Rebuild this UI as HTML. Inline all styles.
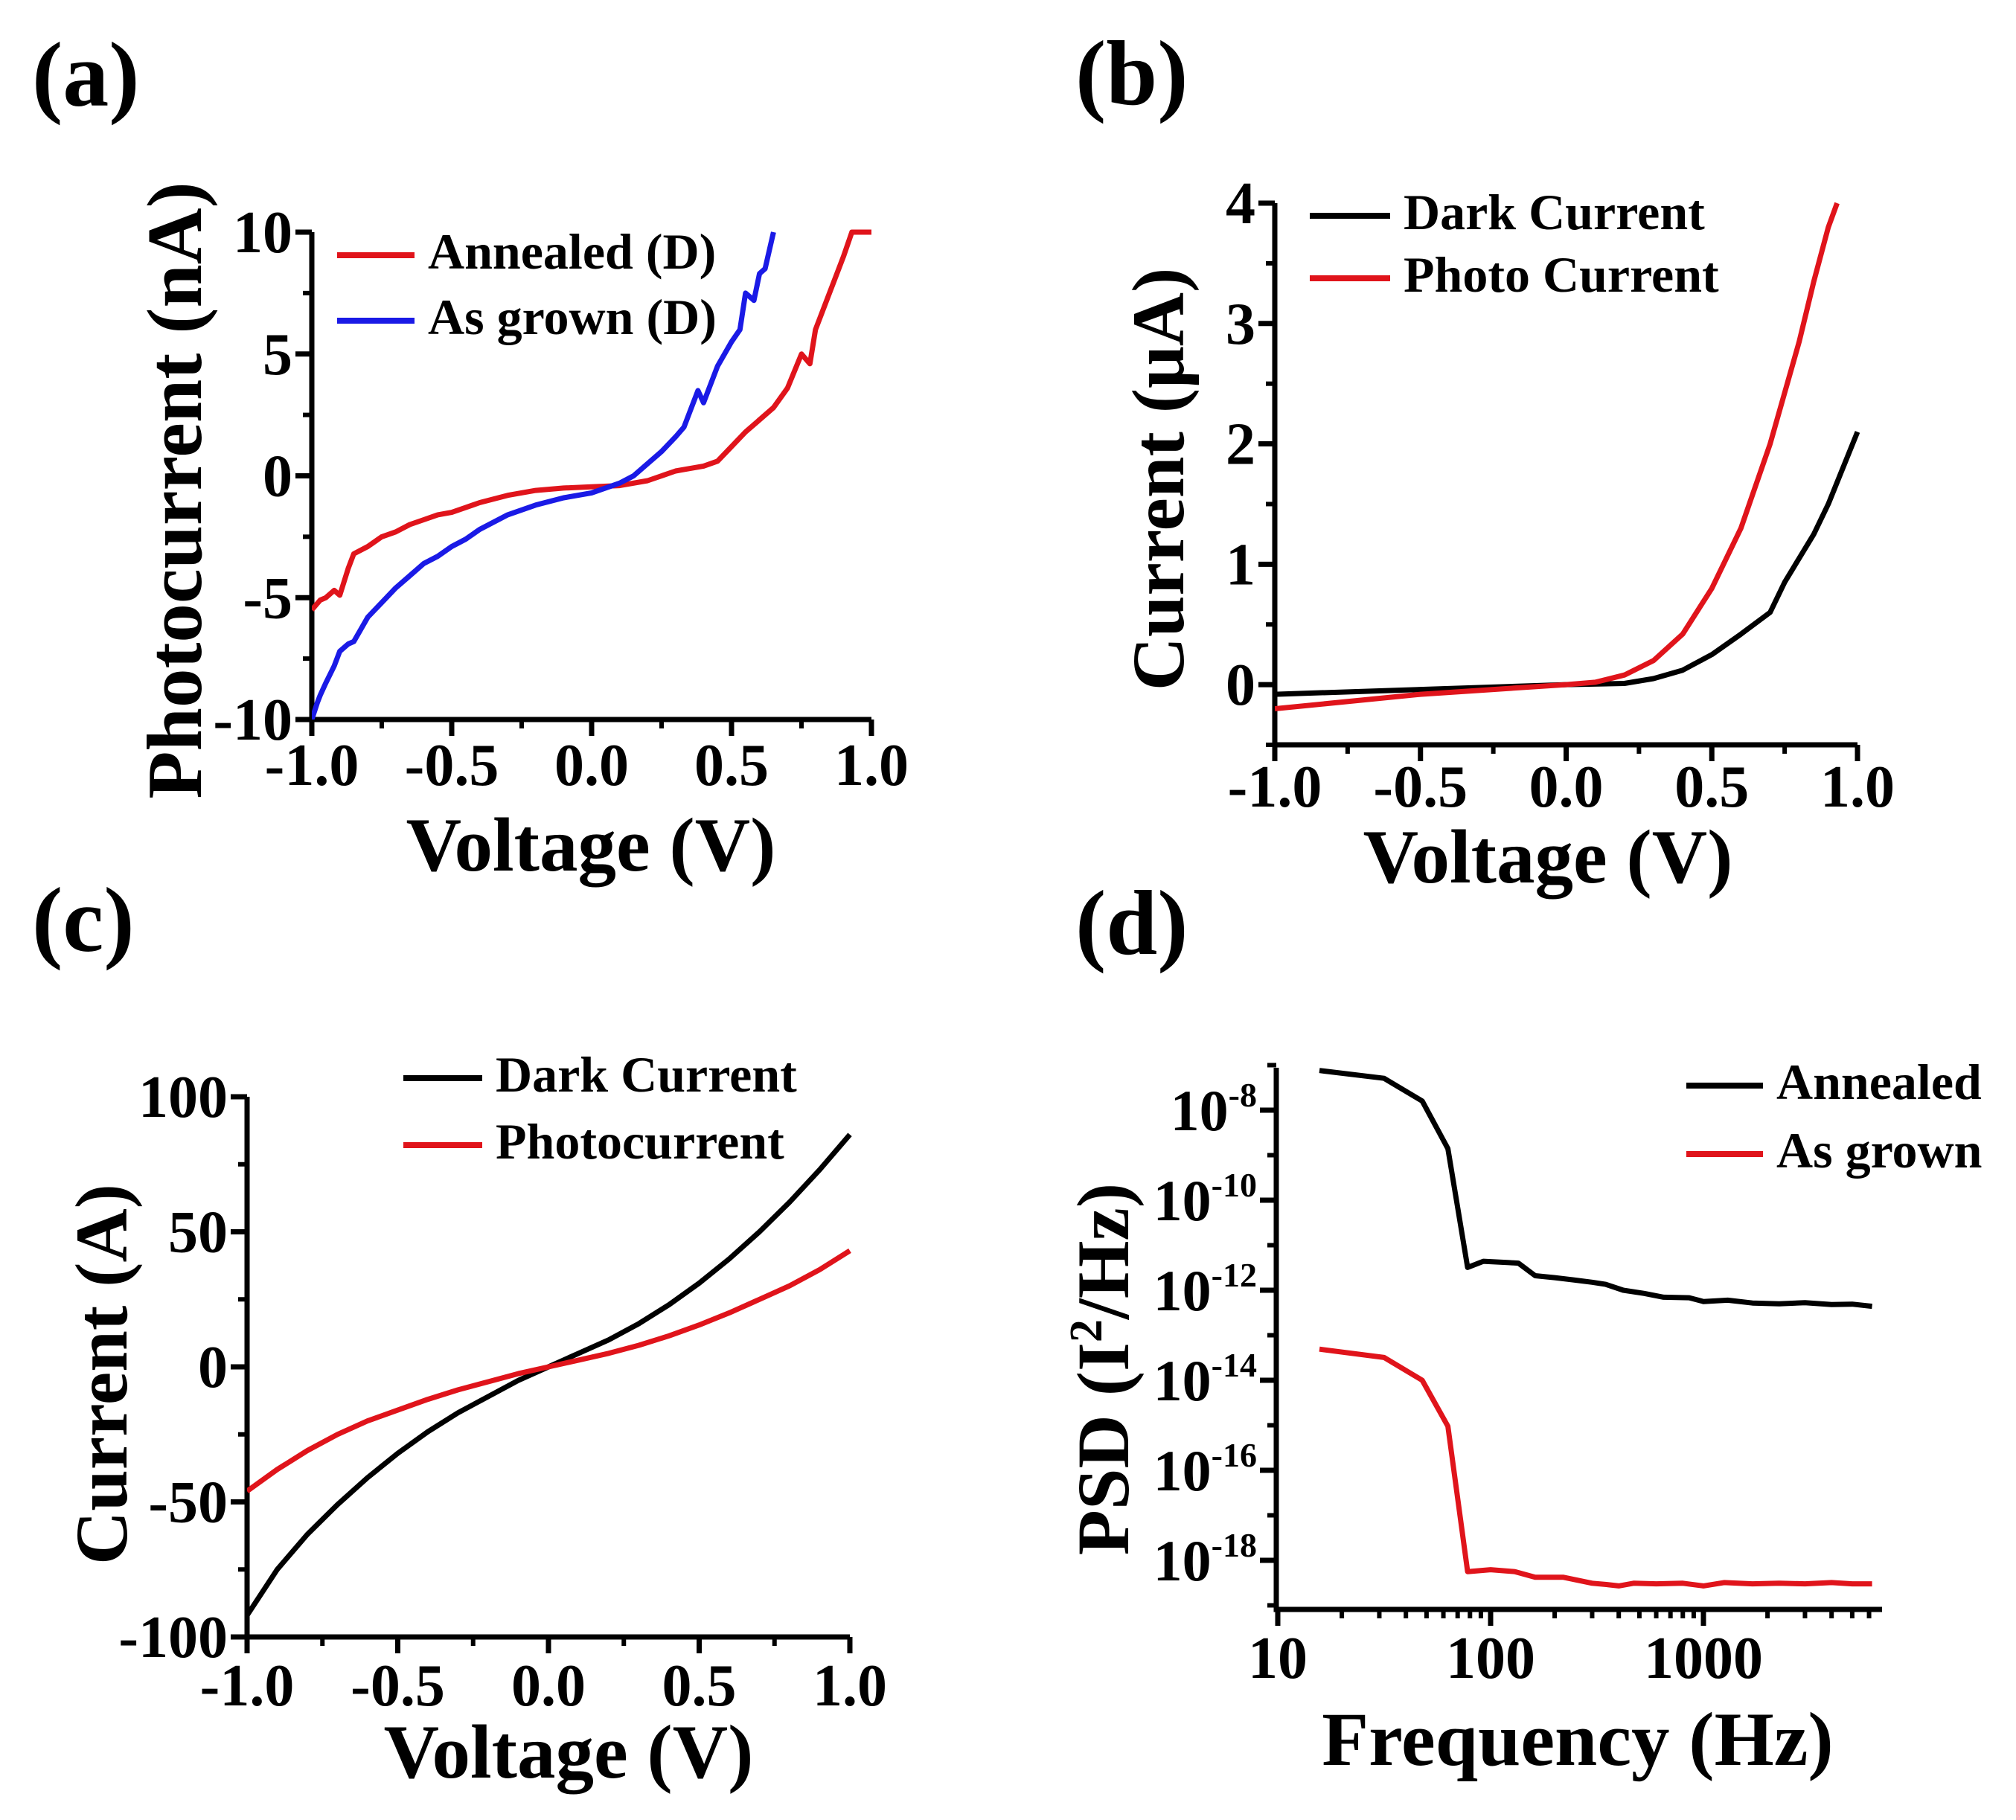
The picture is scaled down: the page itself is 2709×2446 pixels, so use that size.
<!DOCTYPE html>
<html><head><meta charset="utf-8"><style>
html,body{margin:0;padding:0;background:#fff;}
svg{display:block;}
text{font-family:"Liberation Serif",serif;font-weight:bold;fill:#000;}
</style></head><body>
<svg id="fig" xmlns="http://www.w3.org/2000/svg" width="2709" height="2446" viewBox="0 0 2709 2446"></svg>
<script>
// ---------- Panel (a) data ----------
const aVoltAnn = [-1,-0.97,-0.95,-0.92,-0.9,-0.87,-0.85,-0.8,-0.75,-0.7,-0.65,-0.6,-0.55,-0.5,-0.45,-0.4,-0.3,-0.2,-0.1,0,0.1,0.2,0.3,0.35,0.4,0.45,0.5,0.55,0.6,0.65,0.7,0.75,0.78,0.8,0.85,0.9,0.93,0.97,1.0];
const aCurAnn  = [-5.5,-5.1,-5.0,-4.7,-4.9,-3.8,-3.2,-2.9,-2.5,-2.3,-2.0,-1.8,-1.6,-1.5,-1.3,-1.1,-0.8,-0.6,-0.5,-0.45,-0.4,-0.2,0.2,0.3,0.4,0.6,1.2,1.8,2.3,2.8,3.6,5.0,4.6,6.0,7.5,9.0,10,10,10];
const aVoltAsg = [-1,-0.98,-0.97,-0.95,-0.92,-0.9,-0.87,-0.85,-0.8,-0.75,-0.7,-0.65,-0.6,-0.55,-0.5,-0.45,-0.4,-0.3,-0.2,-0.1,0,0.1,0.15,0.2,0.25,0.3,0.33,0.35,0.38,0.4,0.45,0.5,0.53,0.55,0.58,0.6,0.62,0.65];
const aCurAsg  = [-10,-9.3,-9.0,-8.5,-7.8,-7.2,-6.9,-6.8,-5.8,-5.2,-4.6,-4.1,-3.6,-3.3,-2.9,-2.6,-2.2,-1.6,-1.2,-0.9,-0.7,-0.3,0,0.5,1.0,1.6,2.0,2.6,3.5,3.0,4.5,5.5,6.0,7.5,7.2,8.3,8.5,10];
const aXTicks = [-1,-0.5,0,0.5,1];
const aXTickLabels = ["-1.0","-0.5","0.0","0.5","1.0"];
const aYTicks = [-10,-5,0,5,10];
const aYTickLabels = ["-10","-5","0","5","10"];
// ---------- Panel (b) data ----------
const bVoltDark = [-1,-0.5,0,0.2,0.3,0.4,0.5,0.6,0.7,0.75,0.8,0.85,0.9,0.95,1.0];
const bCurDark  = [-0.08,-0.04,0,0.01,0.05,0.12,0.25,0.42,0.6,0.85,1.05,1.25,1.5,1.8,2.1];
const bVoltPhoto = [-1,-0.5,0,0.1,0.2,0.3,0.4,0.5,0.6,0.7,0.8,0.85,0.9,0.93];
const bCurPhoto  = [-0.2,-0.08,0,0.02,0.08,0.2,0.42,0.8,1.3,2.0,2.85,3.35,3.8,4.0];
const bXTicks = [-1,-0.5,0,0.5,1];
const bXTickLabels = ["-1.0","-0.5","0.0","0.5","1.0"];
const bYTicks = [0,1,2,3,4];
const bYTickLabels = ["0","1","2","3","4"];
// ---------- Panel (c) data ----------
const cVolt = [-1,-0.9,-0.8,-0.7,-0.6,-0.5,-0.4,-0.3,-0.2,-0.1,0,0.1,0.2,0.3,0.4,0.5,0.6,0.7,0.8,0.9,1.0];
const cDark = [-92,-75,-62,-51,-41,-32,-24,-17,-11,-5,0,5,10,16,23,31,40,50,61,73,86];
const cPhoto = [-46,-38,-31,-25,-20,-16,-12,-8.5,-5.5,-2.5,0,2.5,5,8,11.5,15.5,20,25,30,36,43];
const cXTicks = [-1,-0.5,0,0.5,1];
const cXTickLabels = ["-1.0","-0.5","0.0","0.5","1.0"];
const cYTicks = [-100,-50,0,50,100];
const cYTickLabels = ["-100","-50","0","50","100"];
// ---------- Panel (d) data ----------
const dFreqAnn = [15.7,31.6,47.7,63,78,92.5,122,135,162,200,245,300,347,420,527,650,857,1000,1300,1700,2270,3000,4000,5000,6200];
const dPsdAnn  = [7.6e-8,5.1e-8,1.6e-8,1.4e-9,3.2e-12,4.4e-12,4.1e-12,4.0e-12,2.1e-12,1.9e-12,1.7e-12,1.5e-12,1.35e-12,1.0e-12,8.5e-13,7.0e-13,6.8e-13,5.6e-13,6.0e-13,5.2e-13,5.0e-13,5.3e-13,4.8e-13,4.9e-13,4.4e-13];
const dFreqAsg = [15.7,31.6,47.7,63,78,100,130,162,220,300,350,400,470,600,800,1000,1250,1700,2270,3000,4000,5000,6200];
const dPsdAsg  = [4.9e-14,3.2e-14,1.0e-14,9.5e-16,5.6e-19,6.2e-19,5.6e-19,4.2e-19,4.2e-19,3.1e-19,2.9e-19,2.7e-19,3.1e-19,3.0e-19,3.1e-19,2.7e-19,3.2e-19,3.0e-19,3.1e-19,3.0e-19,3.2e-19,3.0e-19,3.0e-19];
const dXTicks = [10,100,1000];
const dXTickLabels = ["10","100","1000"];
const dYTicks = [-8,-10,-12,-14,-16,-18];
const dYTickLabels = ["-8","-10","-12","-14","-16","-18"];

const NS='http://www.w3.org/2000/svg';
const svg=document.getElementById('fig');
function mk(tag, attrs, parent){const e=document.createElementNS(NS,tag);for(const k in attrs)e.setAttribute(k,attrs[k]);(parent||svg).appendChild(e);return e;}
function lin(d0,d1,p0,p1){return v=>p0+(v-d0)/(d1-d0)*(p1-p0);}
function pathFrom(xs,ys,sx,sy){return xs.map((x,i)=>(i?'L':'M')+sx(x).toFixed(1)+' '+sy(ys[i]).toFixed(1)).join(' ');}

function text(g,str,x,y,size,anchor){const t=mk('text',{x:x,y:y,'font-size':size,'text-anchor':anchor||'start'},g);t.textContent=str;return t;}

function panel(id, cfg){
  const g=mk('g',{});
  
  
  const {x0,x1,y0,y1,sx,sy}=cfg;
  const L=text(g,'('+id+')',cfg.letterX,cfg.letterY,124);
  
  
  const ax=mk('path',{d:`M${x0} ${y0} L${x0} ${y1} L${x1} ${y1}`,fill:'none',stroke:'#000','stroke-width':7},g);
  
  
  cfg.xMinor.forEach(v=>{const t=mk('line',{x1:sx(v),x2:sx(v),y1:y1,y2:y1+12,stroke:'#000','stroke-width':6},g);
    
    });
  cfg.xTicks.forEach((v,i)=>{const t=mk('line',{x1:sx(v),x2:sx(v),y1:y1,y2:y1+22,stroke:'#000','stroke-width':7},g);
    
    
    const l=text(g,cfg.xTickLabels[i],sx(v),cfg.xLabBase,80,'middle');
    
    });
  cfg.yMinor.forEach(v=>{const t=mk('line',{x1:x0,x2:x0-12,y1:sy(v),y2:sy(v),stroke:'#000','stroke-width':6},g);
    
    });
  cfg.yTicks.forEach((v,i)=>{const t=mk('line',{x1:x0,x2:x0-22,y1:sy(v),y2:sy(v),stroke:'#000','stroke-width':7},g);
    
    
    let l;
    if(cfg.logY){l=mk('text',{x:x0-26,y:sy(v)+27,'font-size':78,'text-anchor':'end'},g);
      const a=mk('tspan',{},l);a.textContent='10';
      const b=mk('tspan',{dy:-32,'font-size':46},l);b.textContent=cfg.yTickLabels[i];
    } else { l=text(g,cfg.yTickLabels[i],x0-26,sy(v)+27,80,'end'); }
    
    });
  const xt=text(g,cfg.xTitle,cfg.xTitleX,cfg.xTitleY,103,'middle');
  
  
  const yt=mk('text',{x:0,y:0,'font-size':cfg.yTitleSize,'text-anchor':'middle',transform:`translate(${cfg.yTitleX},${cfg.yTitleY}) rotate(-90)`},g);
  if(cfg.yTitleSup){
    const p1=mk('tspan',{},yt);p1.textContent='PSD (I';
    const p2=mk('tspan',{dy:-36,'font-size':62},yt);p2.textContent='2';
    const p3=mk('tspan',{dy:36},yt);p3.textContent='/Hz)';
  } else yt.textContent=cfg.yTitle;
  
  
  const clipId='clip'+id;
  const cp=mk('clipPath',{id:clipId},g);mk('rect',{x:x0,y:y0-6,width:x1-x0+6,height:y1-y0+6},cp);
  cfg.series.forEach((s,k)=>{
    const p=mk('path',{d:pathFrom(s.xs,s.ys,sx,s.syf||sy),fill:'none',stroke:s.color,'stroke-width':7,'stroke-linejoin':'round','clip-path':`url(#${clipId})`},g);
    
    
    const ly=cfg.legY[k];
    const ll=mk('line',{x1:cfg.legX,x2:cfg.legX+cfg.legLen,y1:ly,y2:ly,stroke:s.color,'stroke-width':8},g);
    
    
    const lt=text(g,s.label,cfg.legX+cfg.legLen+18,ly+18,68);
    
    
  });
}

const RED='#e0141b', BLUE='#1a1ae6', BLACK='#000';
function minorLin(a,b,st,major){const r=[];for(let v=a;v<=b+1e-9;v+=st){if(!major.some(m=>Math.abs(m-v)<1e-9))r.push(v);}return r;}

{const x0=419,x1=1171,y0=312,y1=967;
 panel('a',{x0,x1,y0,y1,sx:lin(-1,1,x0,x1),sy:lin(-10,10,y1,y0),
  letterX:43,letterY:142,xTicks:aXTicks,xTickLabels:aXTickLabels,xMinor:minorLin(-1,1,0.25,aXTicks),
  yTicks:aYTicks,yTickLabels:aYTickLabels,yMinor:minorLin(-10,10,2.5,aYTicks),xLabBase:1055,
  xTitle:'Voltage (V)',xTitleX:794,xTitleY:1170,yTitle:'Photocurrent (nA)',yTitleX:270,yTitleY:659,yTitleSize:105,
  legX:453,legLen:104,legY:[343,431],
  series:[{key:'annealed-d',label:'Annealed (D)',color:RED,xs:aVoltAnn,ys:aCurAnn},
          {key:'as-grown-d',label:'As grown (D)',color:BLUE,xs:aVoltAsg,ys:aCurAsg}]});}
{const x0=1713,x1=2496,y0=273,y1=1001;
 panel('b',{x0,x1,y0,y1,sx:lin(-1,1,x0,x1),sy:lin(-0.5,4,y1,y0),
  letterX:1445,letterY:140,xTicks:bXTicks,xTickLabels:bXTickLabels,xMinor:minorLin(-1,1,0.25,bXTicks),
  yTicks:bYTicks,yTickLabels:bYTickLabels,yMinor:[-0.5,0.5,1.5,2.5,3.5],xLabBase:1084,
  xTitle:'Voltage (V)',xTitleX:2080,xTitleY:1186,yTitle:'Current (\u03BCA)',yTitleX:1590,yTitleY:644,yTitleSize:100,
  legX:1760,legLen:108,legY:[290,374],
  series:[{key:'dark-current',label:'Dark Current',color:BLACK,xs:bVoltDark,ys:bCurDark},
          {key:'photo-current',label:'Photo Current',color:RED,xs:bVoltPhoto,ys:bCurPhoto}]});}
{const x0=332,x1=1142,y0=1474,y1=2200;
 panel('c',{x0,x1,y0,y1,sx:lin(-1,1,x0,x1),sy:lin(-100,100,y1,y0),
  letterX:43,letterY:1278,xTicks:cXTicks,xTickLabels:cXTickLabels,xMinor:minorLin(-1,1,0.25,cXTicks),
  yTicks:cYTicks,yTickLabels:cYTickLabels,yMinor:minorLin(-100,100,25,cYTicks),xLabBase:2292,
  xTitle:'Voltage (V)',xTitleX:764,xTitleY:2389,yTitle:'Current (A)',yTitleX:170,yTitleY:1847,yTitleSize:100,
  legX:542,legLen:106,legY:[1449,1539],
  series:[{key:'dark-current-c',label:'Dark Current',color:BLACK,xs:cVolt,ys:cDark},
          {key:'photocurrent-c',label:'Photocurrent',color:RED,xs:cVolt,ys:cPhoto}]});}
{const x0=1715,x1=2529,y0=1435,y1=2163;
 const fx=lin(1,2,1717,2003); const sx=f=>fx(Math.log10(f));
 const ey=lin(-8,-18,1492,2097); const syE=e=>ey(e); const syV=v=>ey(Math.log10(v));
 const xMinor=[];[10,100,1000].forEach(d=>{for(let m=2;m<=9;m++){if(d*m<=6900)xMinor.push(d*m);}});
 panel('d',{x0,x1,y0,y1,sx,sy:syE,
  letterX:1445,letterY:1282,xTicks:dXTicks,xTickLabels:dXTickLabels,xMinor:xMinor,
  yTicks:dYTicks,yTickLabels:dYTickLabels,yMinor:[-7,-9,-11,-13,-15,-17,-19],xLabBase:2255,logY:true,
  xTitle:'Frequency (Hz)',xTitleX:2120,xTitleY:2372,yTitle:'PSD',yTitleSup:true,yTitleX:1516,yTitleY:1840,yTitleSize:100,
  legX:2266,legLen:103,legY:[1459,1551],
  series:[{key:'annealed',label:'Annealed',color:BLACK,xs:dFreqAnn,ys:dPsdAnn,syf:syV},
          {key:'as-grown',label:'As grown',color:RED,xs:dFreqAsg,ys:dPsdAsg,syf:syV}]});}
</script>
</body></html>
